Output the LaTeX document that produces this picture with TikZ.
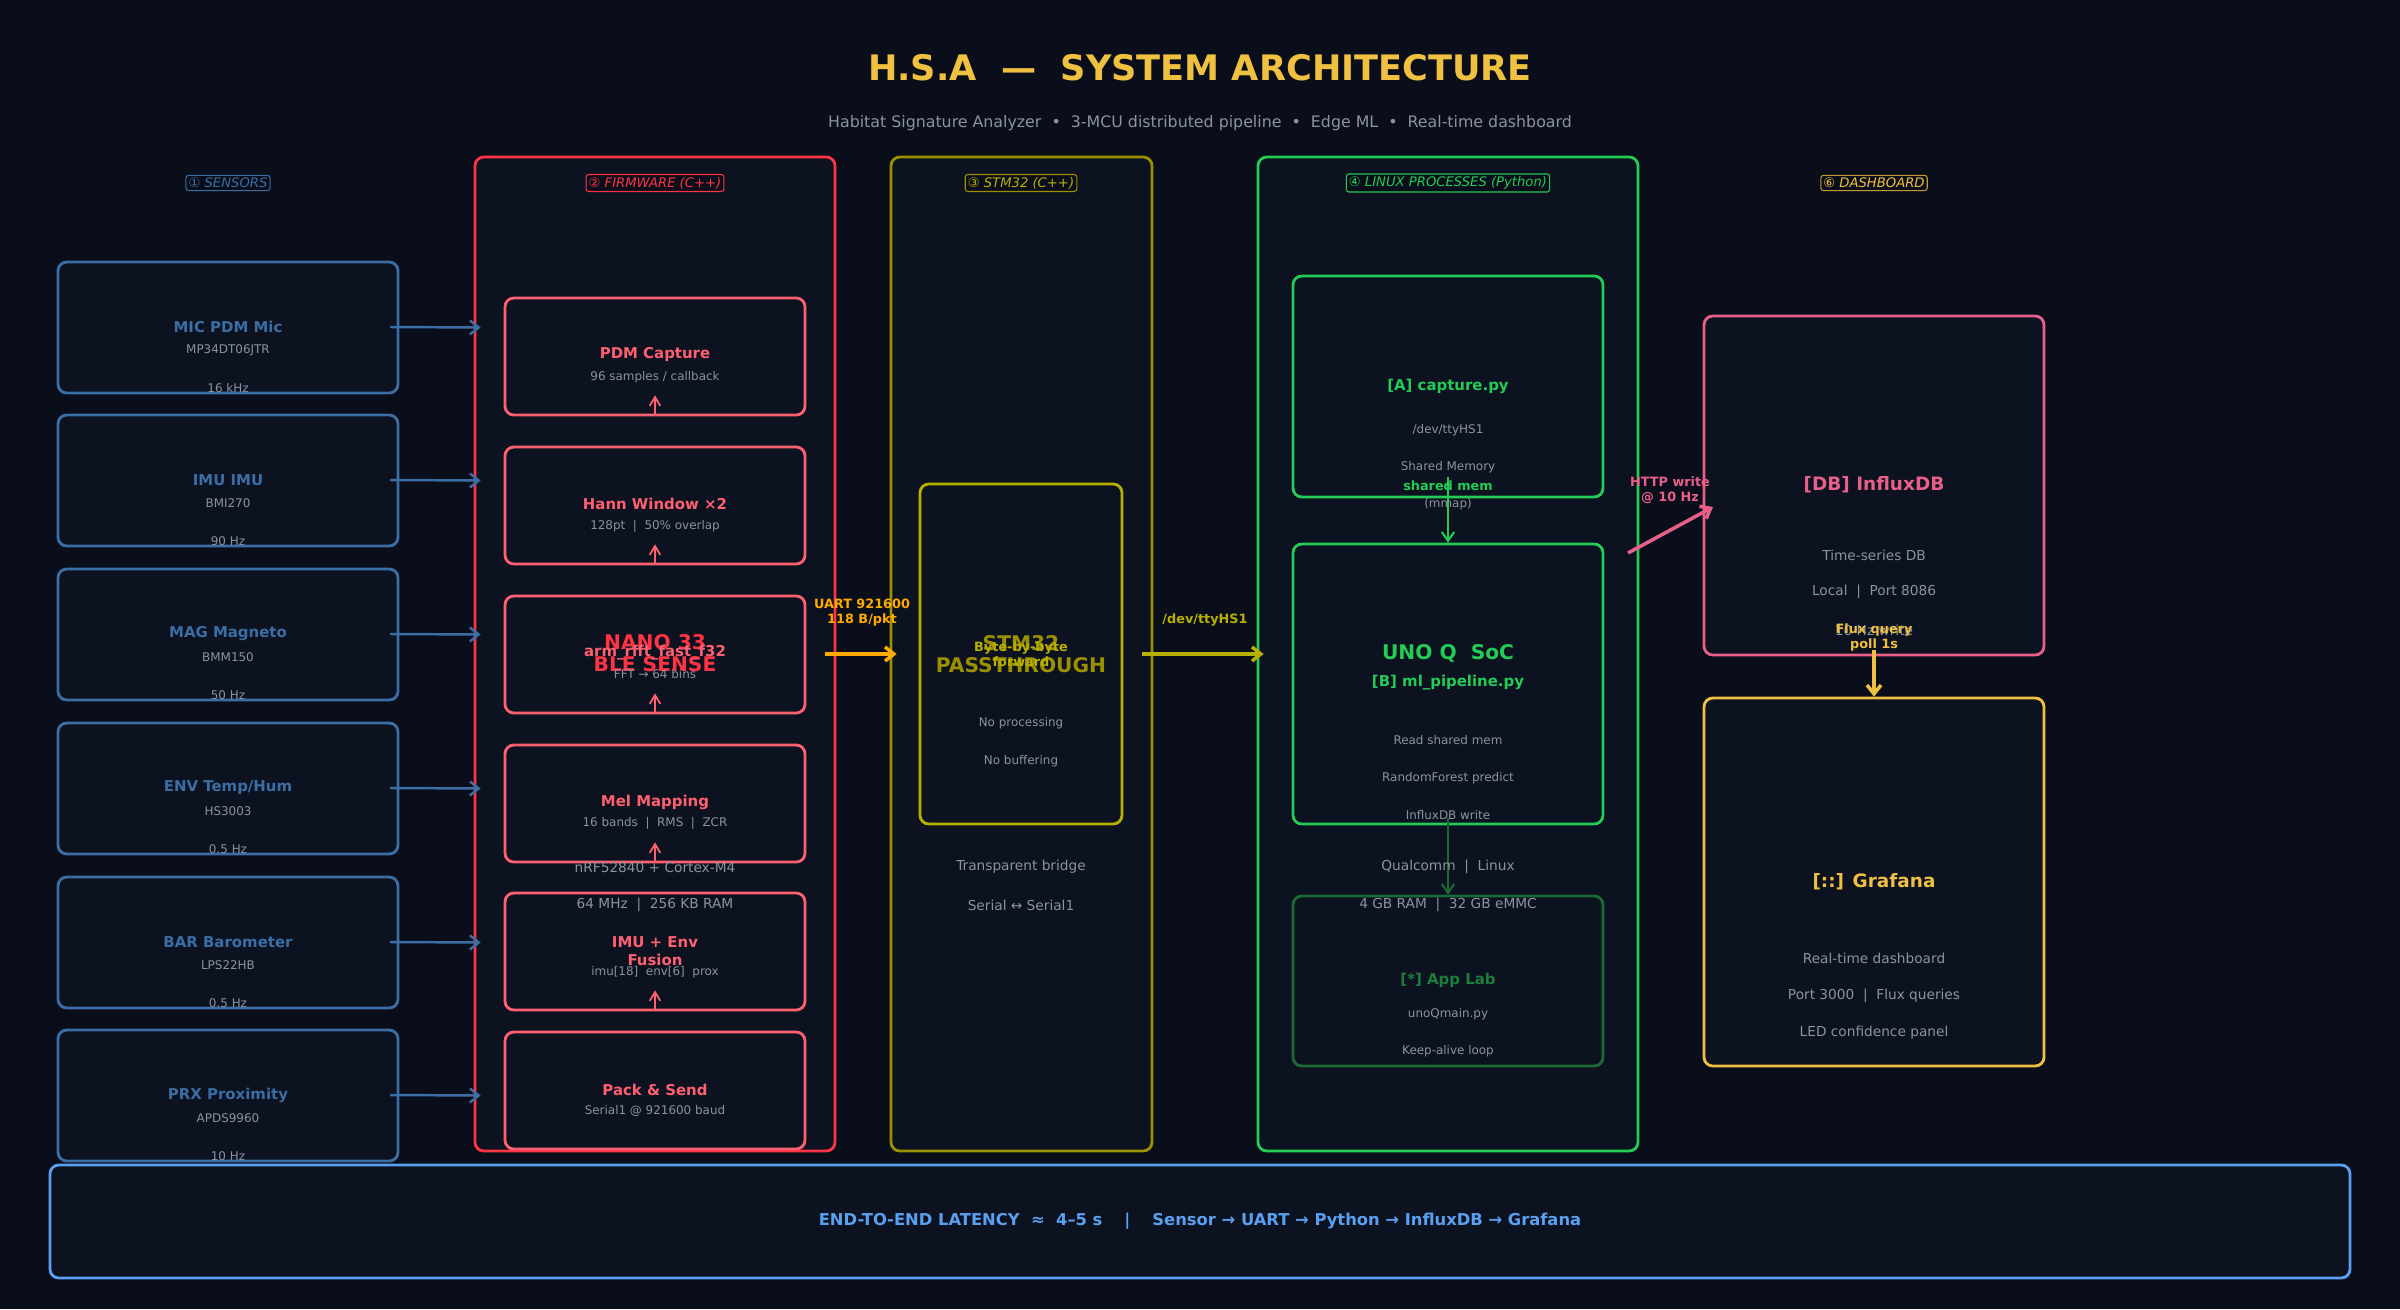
\documentclass[tikz,border=0pt]{standalone}
\usepackage{fontspec}
\setmainfont{DejaVu Sans}
\usetikzlibrary{arrows.meta}
\definecolor{bg}{HTML}{0A0E1A}
\definecolor{pan}{HTML}{0D1220}
\definecolor{gry}{HTML}{8B949E}
\definecolor{sen}{HTML}{3A6EA5}
\definecolor{fwb}{HTML}{FF3344}
\definecolor{fwi}{HTML}{FF6070}
\definecolor{stb}{HTML}{9A9000}
\definecolor{sti}{HTML}{B8B000}
\definecolor{lnx}{HTML}{22CC55}
\definecolor{lnd}{HTML}{1A6A35}
\definecolor{dbc}{HTML}{E8608A}
\definecolor{gol}{HTML}{F0C040}
\definecolor{org}{HTML}{FFAA00}
\definecolor{blu}{HTML}{5AA0F0}
\newcommand\boxn[6]{\node[#6, minimum width={(#4-#2)*0.02cm}, minimum height={(#5-#3)*0.02cm}] (#1) at ({(#2+#4)/2},{(#3+#5)/2}) {};}
\newcommand\tx[4]{\node[#1] at (#2,#3) {#4};}
\begin{document}
\begin{tikzpicture}[x=0.02cm,y=-0.02cm,
  bx/.style={draw, rounded corners=5pt, fill=pan, line width=1.6pt, inner sep=0pt},
  sm/.style={text=gry, font=\fontsize{6.8}{8}\selectfont, inner sep=0pt, align=center},
  md/.style={text=gry, font=\fontsize{7.8}{9}\selectfont, inner sep=0pt, align=center},
  hd/.style={font=\bfseries\fontsize{8.5}{10}\selectfont, inner sep=0pt, align=center},
  big/.style={font=\bfseries\fontsize{11.5}{12.5}\selectfont, inner sep=0pt, align=center},
  lab/.style={font=\bfseries\fontsize{7.3}{8.5}\selectfont, inner sep=0pt, align=center},
  sec/.style={draw, rounded corners=1.5pt, line width=0.6pt, font=\itshape\fontsize{7.5}{9}\selectfont, inner sep=1.5pt, fill=bg},
  ar/.style={-{Straight Barb[length=5pt,width=8pt]}, line width=1.4pt},
  upar/.style={-{Straight Barb[length=5pt,width=6pt]}, line width=1pt, fwi}]
\fill[bg] (0,0) rectangle (2400,1309);
\useasboundingbox (0,0) rectangle (2400,1309);
% title
\tx{text=gol,font=\bfseries\fontsize{20}{24}\selectfont}{1200}{68}{H.S.A \ — \ SYSTEM ARCHITECTURE}
\tx{text=gry,font=\fontsize{9}{11}\selectfont}{1200}{123}{Habitat Signature Analyzer \ • \ 3-MCU distributed pipeline \ • \ Edge ML \ • \ Real-time dashboard}
% big panels
\boxn{fw}{475}{157}{835}{1151}{bx,draw=fwb}
\boxn{st}{891}{157}{1152}{1151}{bx,draw=stb}
\boxn{lx}{1258}{157}{1638}{1151}{bx,draw=lnx}
% section labels
\node[sec,draw=sen,text=sen] at (228,183) {① SENSORS};
\node[sec,draw=fwb,text=fwb] at (655,183) {② FIRMWARE (C++)};
\node[sec,draw=stb,text=sti] at (1021,183) {③ STM32 (C++)};
\node[sec,draw=lnx,text=lnx] at (1448,183) {④ LINUX PROCESSES (Python)};
\node[sec,draw=gol!80!black,text=gol] at (1874,183) {⑥ DASHBOARD};
% sensors
\foreach \n/\t/\a/\b/\f in {s1/262/MIC PDM Mic/MP34DT06JTR/16 kHz, s2/415/IMU IMU/BMI270/90 Hz, s3/569/MAG Magneto/BMM150/50 Hz, s4/723/ENV Temp\slash Hum/HS3003/0.5 Hz, s5/877/BAR Barometer/LPS22HB/0.5 Hz, s6/1030/PRX Proximity/APDS9960/10 Hz}{
  \boxn{\n}{58}{\t}{398}{\t+131}{bx,draw=sen}
  \tx{hd,text=sen}{228}{\t+65}{\a}
  \tx{sm}{228}{\t+88}{\b}
  \tx{sm}{228}{\t+126}{\f}
  \draw[ar,sen] (390,\t+65) -- ([xshift=4pt]\n.east -| fw.west);
}
% firmware inner
\foreach \n/\t in {p1/298,p2/447,p3/596,p4/745,p5/893,p6/1032}{\boxn{\n}{505}{\t}{805}{\t+117}{bx,draw=fwi}}
\tx{hd,text=fwi}{655}{355}{PDM Capture}\tx{sm}{655}{377}{96 samples / callback}
\tx{hd,text=fwi}{655}{504}{Hann Window ×2}\tx{sm}{655}{526}{128pt \ | \ 50\% overlap}
\tx{big,text=fwb}{655}{653}{NANO 33\\BLE SENSE}
\tx{hd,text=fwi}{655}{653}{arm\_rfft\_fast\_f32}\tx{sm}{655}{674}{FFT → 64 bins}
\tx{hd,text=fwi}{655}{802}{Mel Mapping}\tx{sm}{655}{823}{16 bands \ | \ RMS \ | \ ZCR}
\tx{md}{655}{867}{nRF52840 + Cortex-M4}
\tx{md}{655}{905}{64 MHz \ | \ 256 KB RAM}
\tx{hd,text=fwi}{655}{951}{IMU + Env\\Fusion}\tx{sm}{655}{972}{imu[18] \ env[6] \ prox}
\tx{hd,text=fwi}{655}{1090}{Pack \& Send}\tx{sm}{655}{1111}{Serial1 @ 921600 baud}
\foreach \n in {p1,p2,p3,p4,p5}{\draw[upar] ([yshift=1pt]\n.south) -- ([yshift=12pt]\n.south);}
% stm32
\boxn{si}{920}{484}{1122}{824}{bx,draw=sti}
\tx{big,text=stb}{1021}{654}{STM32\\PASSTHROUGH}
\tx{lab,text=sti}{1021}{654}{Byte-by-byte\\forward}
\tx{sm}{1021}{723}{No processing}\tx{sm}{1021}{761}{No buffering}
\tx{md}{1021}{867}{Transparent bridge}
\tx{md}{1021}{905}{Serial ↔ Serial1}
\draw[ar,org,line width=2pt] (825,654) -- ([xshift=4pt]st.west |- 0,654);
\tx{lab,text=org}{862}{613}{UART 921600\\118 B/pkt}
\draw[ar,sti,line width=2pt] (1142,654) -- ([xshift=4pt]lx.west |- 0,654);
\tx{lab,text=sti}{1205}{620}{/dev/ttyHS1}
% linux
\boxn{la}{1293}{276}{1603}{497}{bx,draw=lnx}
\boxn{lb}{1293}{544}{1603}{824}{bx,draw=lnx}
\boxn{lc}{1293}{896}{1603}{1066}{bx,draw=lnd}
\tx{hd,text=lnx}{1448}{386}{[A] capture.py}\tx{sm}{1448}{430}{/dev/ttyHS1}\tx{sm}{1448}{467}{Shared Memory}
\tx{sm}{1448}{504}{(mmap)}
\draw[-{Straight Barb[length=5pt,width=7pt]},line width=1.2pt,lnx] (1448,477) -- (lb.north);
\tx{lab,text=lnx}{1448}{486}{shared mem}
\tx{big,text=lnx}{1448}{653}{UNO Q \ SoC}
\tx{hd,text=lnx}{1448}{683}{[B] ml\_pipeline.py}
\tx{sm}{1448}{740}{Read shared mem}\tx{sm}{1448}{778}{RandomForest predict}\tx{sm}{1448}{815}{InfluxDB write}
\draw[-{Straight Barb[length=5pt,width=7pt]},line width=1.2pt,lnd] (1448,818) -- (lc.north);
\tx{md}{1448}{867}{Qualcomm \ | \ Linux}
\tx{md}{1448}{905}{4 GB RAM \ | \ 32 GB eMMC}
\tx{hd,text=lnd!80!lnx}{1448}{980}{[*] App Lab}\tx{sm}{1448}{1014}{unoQmain.py}\tx{sm}{1448}{1051}{Keep-alive loop}
% dashboard
\boxn{db}{1704}{316}{2044}{655}{bx,draw=dbc}
\boxn{gf}{1704}{698}{2044}{1066}{bx,draw=gol}
\tx{big,text=dbc,font=\bfseries\fontsize{10.5}{12}\selectfont}{1874}{485}{[DB] InfluxDB}
\tx{md}{1874}{555}{Time-series DB}
\tx{md}{1874}{592}{Local \ | \ Port 8086}
\tx{md}{1874}{630}{10 Hz write}
\draw[ar,dbc,line width=2pt] (1628,553) -- (1713,507);
\tx{lab,text=dbc}{1670}{490}{HTTP write\\@ 10 Hz}
\draw[ar,gol,line width=2pt] (1874,650) -- (gf.north);
\tx{lab,text=gol}{1874}{637}{Flux query\\poll 1s}
\tx{big,text=gol,font=\bfseries\fontsize{10.5}{12}\selectfont}{1874}{882}{[::] Grafana}
\tx{md}{1874}{958}{Real-time dashboard}
\tx{md}{1874}{996}{Port 3000 \ | \ Flux queries}
\tx{md}{1874}{1033}{LED confidence panel}
% bottom
\boxn{lat}{50}{1165}{2350}{1278}{bx,draw=blu}
\tx{text=blu,font=\bfseries\fontsize{9.3}{11}\selectfont}{1200}{1221}{END-TO-END LATENCY \ ≈ \ 4–5 s \quad | \quad Sensor → UART → Python → InfluxDB → Grafana}
\end{tikzpicture}
\end{document}
